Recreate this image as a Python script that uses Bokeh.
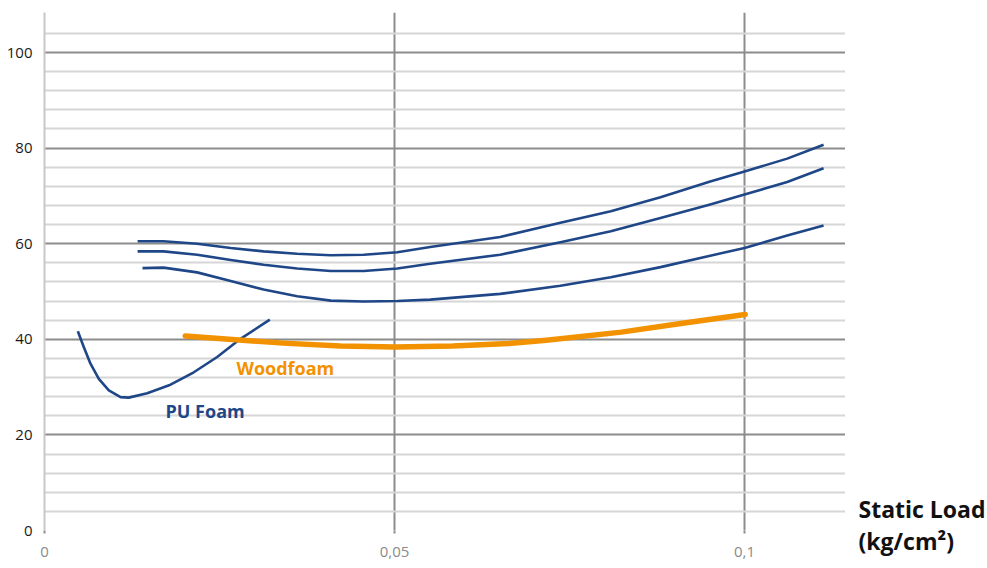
from bokeh.plotting import figure
from bokeh.models import FixedTicker, Label, Range1d
from bokeh.layouts import row
from bokeh.embed import file_html
from bokeh.resources import INLINE

# ---- data ----
c1_x = [0.0133, 0.0170, 0.0218, 0.0266, 0.0313, 0.0361, 0.0409, 0.0456, 0.0504, 0.0551,
        0.0651, 0.0737, 0.0809, 0.0880, 0.0951, 0.1000, 0.1061, 0.1113]
c1_y = [60.5, 60.5, 60.0, 59.1, 58.4, 57.9, 57.6, 57.7, 58.2, 59.3,
        61.4, 64.4, 66.8, 69.7, 73.0, 75.1, 77.8, 80.7]

c2_x = [0.0133, 0.0170, 0.0218, 0.0266, 0.0313, 0.0361, 0.0409, 0.0456, 0.0504, 0.0551,
        0.0651, 0.0737, 0.0809, 0.0880, 0.0951, 0.1000, 0.1061, 0.1113]
c2_y = [58.4, 58.4, 57.7, 56.6, 55.6, 54.8, 54.3, 54.3, 54.8, 55.8,
        57.7, 60.3, 62.6, 65.4, 68.2, 70.3, 72.9, 75.8]

c3_x = [0.0140, 0.0170, 0.0218, 0.0266, 0.0313, 0.0361, 0.0409, 0.0456, 0.0504, 0.0551,
        0.0651, 0.0737, 0.0809, 0.0880, 0.0951, 0.1000, 0.1061, 0.1113]
c3_y = [54.9, 55.0, 54.0, 52.2, 50.4, 49.0, 48.1, 47.9, 48.0, 48.3,
        49.5, 51.2, 53.0, 55.1, 57.5, 59.1, 61.7, 63.8]

wood_x = [0.0201, 0.0273, 0.0341, 0.0423, 0.0501, 0.0583, 0.0663, 0.0717, 0.0824, 0.0909, 0.1001]
wood_y = [40.7, 39.9, 39.2, 38.6, 38.4, 38.6, 39.1, 39.8, 41.5, 43.3, 45.2]

pu_x = [0.00476, 0.00561, 0.00657, 0.00776, 0.00919, 0.01086, 0.01204, 0.01467, 0.0180,
        0.02133, 0.02467, 0.0280, 0.03219]
pu_y = [41.7, 38.4, 34.9, 31.7, 29.3, 27.9, 27.8, 28.7, 30.5,
        33.1, 36.3, 40.1, 44.1]

y_major = [0, 20, 40, 60, 80, 100]
y_minor = [4, 8, 12, 16, 24, 28, 32, 36, 44, 48, 52, 56, 64, 68, 72, 76, 84, 88, 92, 96, 104]
x_ticks = [0, 0.05, 0.1]
x_tick_labels = ["0", "0,05", "0,1"]

BLUE = "#1f4788"
ORANGE = "#f39200"
FONT = "Open Sans"

p = figure(width=845, height=568, output_backend="svg", toolbar_location=None,
           x_range=Range1d(0, 0.11443), y_range=Range1d(0, 108.37))
p.min_border_left = 44
p.min_border_right = 0
p.min_border_top = 12
p.min_border_bottom = 38
p.outline_line_color = None
p.background_fill_color = "white"
p.border_fill_color = "white"

# y axis
p.yaxis.ticker = FixedTicker(ticks=y_major)
p.yaxis.axis_line_color = "#c8c8c8"
p.yaxis.axis_line_width = 2
p.yaxis.major_tick_line_color = None
p.yaxis.major_tick_in = 0
p.yaxis.major_tick_out = 0
p.yaxis.minor_tick_line_color = None
p.yaxis.minor_tick_out = 0
p.yaxis.major_label_text_font = FONT
p.yaxis.major_label_text_font_size = "15px"
p.yaxis.major_label_text_color = "#1a1a1a"
p.yaxis.major_label_standoff = 12

# x axis
p.xaxis.ticker = FixedTicker(ticks=x_ticks)
p.xaxis.major_label_overrides = {t: l for t, l in zip(x_ticks, x_tick_labels)}
p.xaxis.axis_line_color = None
p.xaxis.major_tick_line_color = "#8c8c8c"
p.xaxis.major_tick_line_width = 2
p.xaxis.major_tick_in = 0
p.xaxis.major_tick_out = 3
p.xaxis.minor_tick_line_color = None
p.xaxis.minor_tick_out = 0
p.xaxis.major_label_text_font = FONT
p.xaxis.major_label_text_font_size = "15px"
p.xaxis.major_label_text_color = "#8a8a8a"
p.xaxis.major_label_standoff = 13

# grids
p.xgrid.ticker = FixedTicker(ticks=[0.05, 0.1])
p.xgrid.grid_line_color = "#8c8c8c"
p.xgrid.grid_line_width = 2
p.ygrid.ticker = FixedTicker(ticks=y_major, minor_ticks=y_minor)
p.ygrid.grid_line_color = "#8c8c8c"
p.ygrid.grid_line_width = 2
p.ygrid.minor_grid_line_color = "#d6d6d6"
p.ygrid.minor_grid_line_width = 2

# curves
for xs, ys in [(c1_x, c1_y), (c2_x, c2_y), (c3_x, c3_y), (pu_x, pu_y)]:
    p.line(xs, ys, line_color=BLUE, line_width=2.6, line_join="round")
p.line(wood_x, wood_y, line_color=ORANGE, line_width=5.5, line_cap="round", line_join="round")

# curve labels
p.add_layout(Label(x=0.02743, y=33.9, text="Woodfoam", text_color=ORANGE,
                   text_font=FONT, text_font_size="18px", text_font_style="bold",
                   text_baseline="middle"))
p.add_layout(Label(x=0.01729, y=25.1, text="PU Foam", text_color=BLUE,
                   text_font=FONT, text_font_size="18px", text_font_style="bold",
                   text_baseline="middle"))

# side panel for the x-axis title
t = figure(width=142, height=568, output_backend="svg", toolbar_location=None,
           x_range=Range1d(0, 142), y_range=Range1d(0, 568),
           x_axis_location=None, y_axis_location=None)
t.min_border_left = 0
t.min_border_right = 0
t.min_border_top = 0
t.min_border_bottom = 0
t.frame_align = False
t.outline_line_color = None
t.xgrid.visible = False
t.ygrid.visible = False
t.add_layout(Label(x=13, y=60, text="Static Load", text_color="#111111",
                   text_font=FONT, text_font_size="23px", text_font_style="bold",
                   text_baseline="middle"))
t.add_layout(Label(x=13, y=28, text="(kg/cm²)", text_color="#111111",
                   text_font=FONT, text_font_size="23px", text_font_style="bold",
                   text_baseline="middle"))

layout = row(p, t)
open("out.html", "w").write(file_html(layout, INLINE))
